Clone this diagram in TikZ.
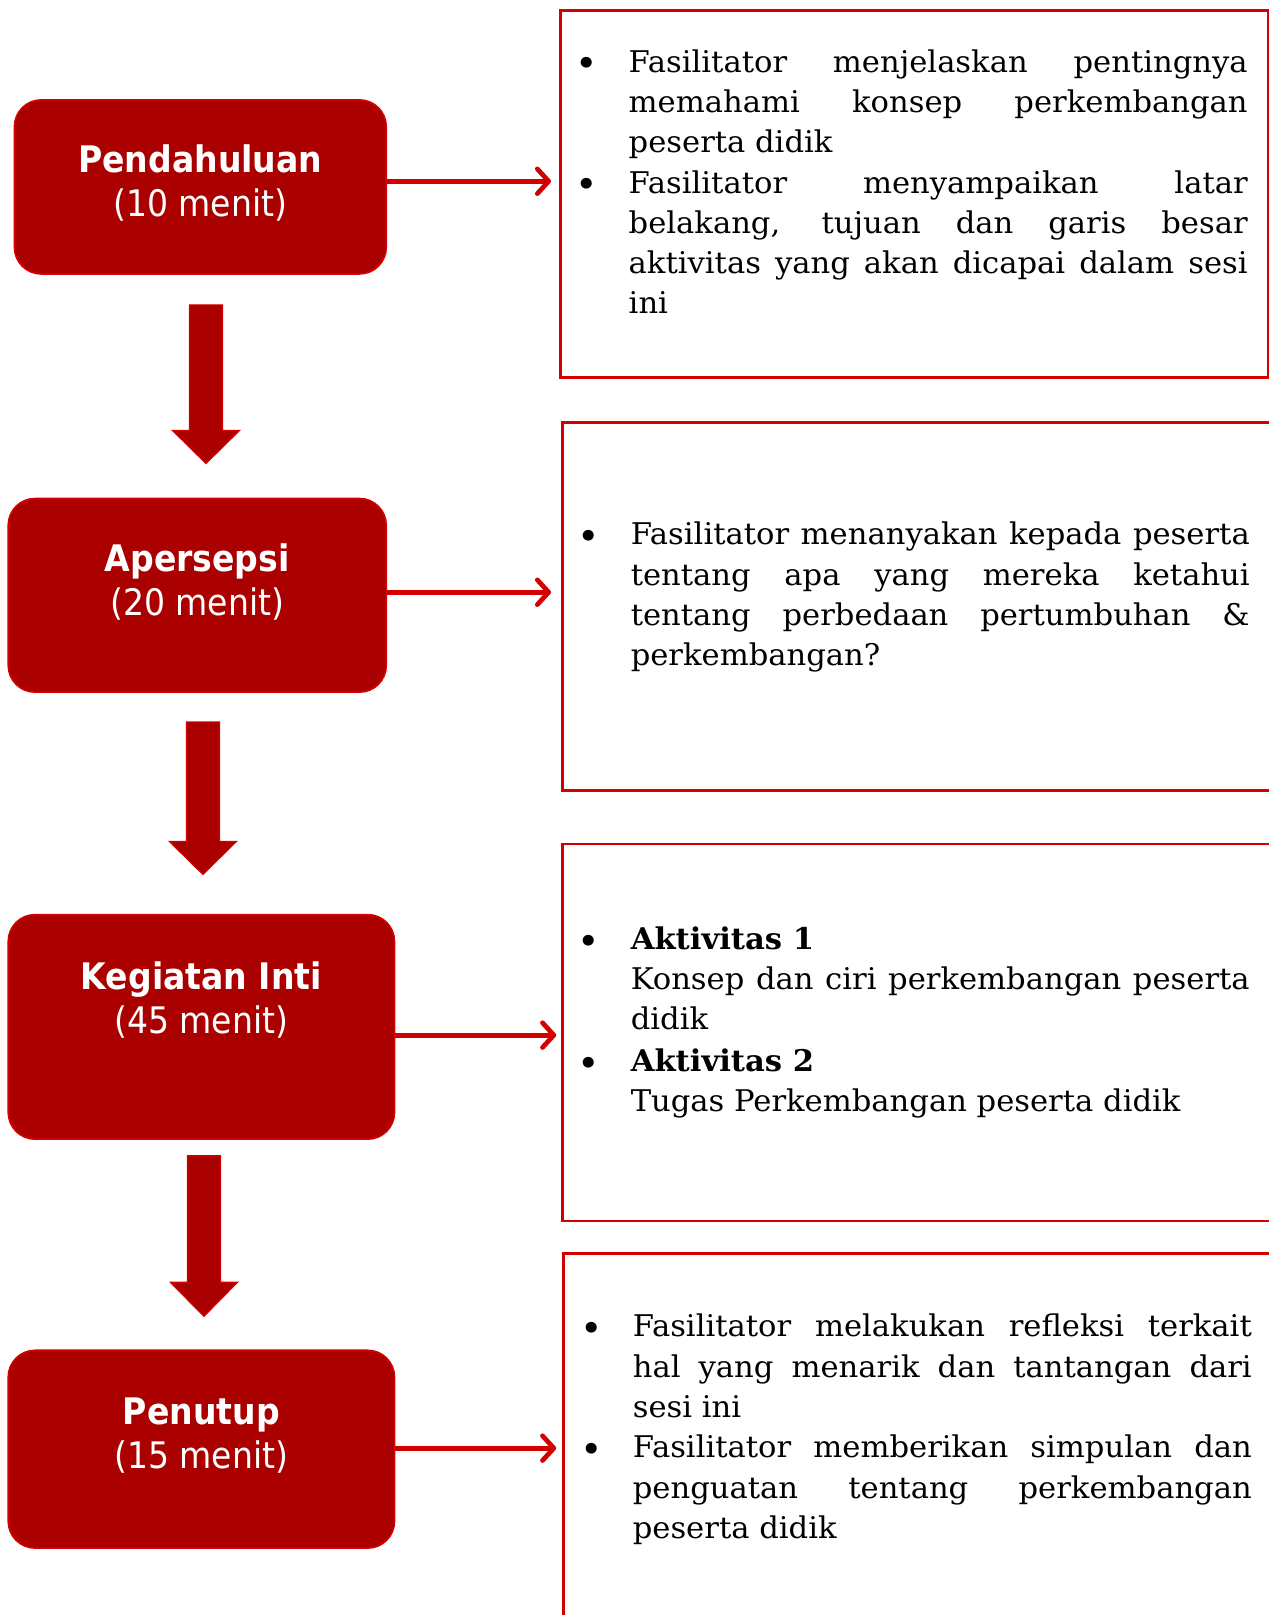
\documentclass[tikz,border=0pt]{standalone}
\usepackage{fontspec}
\setmainfont{DejaVu Serif}[FakeStretch=1.025]
\newfontfamily\boxfont[FakeStretch=0.905]{DejaVu Sans}
\usetikzlibrary{arrows.meta,calc}
\definecolor{boxfill}{RGB}{170,0,0}
\definecolor{boxedge}{RGB}{214,0,0}
\definecolor{linered}{RGB}{212,0,0}
\hyphenpenalty=10000
\exhyphenpenalty=10000
\tolerance=10000
\tikzset{
  lbox/.style={draw=boxedge, line width=0.8pt, fill=boxfill, rounded corners=13pt, inner sep=0pt},
  ltext/.style={text=white, align=center, inner sep=0pt,
    font=\boxfont\fontsize{17.75pt}{21.35pt}\selectfont},
  rbox/.style={draw=linered, line width=1.25pt, inner sep=0pt, anchor=north west},
  rtext/.style={anchor=base west, inner sep=0pt, text width=300.5pt, align=justify,
    font=\fontsize{14.5pt}{19.5pt}\selectfont},
  bul/.style={anchor=base, inner sep=0pt, yshift=-2.2pt, font=\fontsize{18pt}{19.5pt}\selectfont},
  harrow/.style={draw=linered, line width=2.3pt, -{Straight Barb[length=5.5pt,width=12pt,round]}},
  barrow/.style={fill=boxfill, draw=boxedge, line width=0.6pt},
}
\begin{document}
\begin{tikzpicture}[x=0.5pt,y=-0.5pt]
\useasboundingbox (0,0) rectangle (1232,1568);

% left boxes
\node[lbox, minimum width=180.5pt, minimum height=84.5pt] (pend) at (194.5,181.5) {};
\node[lbox, minimum width=183.5pt, minimum height=94pt] (aper) at (191.5,578) {};
\node[lbox, minimum width=187.5pt, minimum height=109pt] (inti) at (195.5,997) {};
\node[lbox, minimum width=187.5pt, minimum height=96pt] (tutup) at (195.5,1407) {};

\node[ltext] (pendt) at (194.5,178) {\bfseries Pendahuluan\\(10 menit)};
\node[ltext] (apert) at (191.5,565) {\bfseries Apersepsi\\(20 menit)};
\node[ltext] (intit) at (195.5,971) {\bfseries Kegiatan Inti\\(45 menit)};
\node[ltext] (tutupt) at (195.5,1393.5) {\bfseries Penutup\\(15 menit)};

% block arrows
\path[barrow] (184,296) -- (216,296) -- (216,418) -- (232.5,418) -- (200,450) -- (167.5,418) -- (184,418) -- cycle;
\path[barrow] (181,701) -- (213,701) -- (213,817) -- (229.5,817) -- (197,849) -- (164.5,817) -- (181,817) -- cycle;
\path[barrow] (182,1122) -- (214,1122) -- (214,1245) -- (230.5,1245) -- (198,1278) -- (165.5,1245) -- (182,1245) -- cycle;

% right boxes
\node[rbox, minimum width=343.5pt, minimum height=178pt] (ra) at (543,9) {};
\node[rbox, minimum width=347.5pt, minimum height=178.5pt] (rb) at (545,409) {};
\node[rbox, minimum width=347.5pt, minimum height=183pt] (rc) at (545,818) {};
\node[rbox, minimum width=347pt, minimum height=182pt] (rd) at (546,1216) {};

% horizontal arrows
\draw[harrow] (pend.east |- 0,176) -- ([xshift=-4pt]ra.west |- 0,176);
\draw[harrow] (aper.east |- 0,575) -- ([xshift=-5pt]rb.west |- 0,575);
\draw[harrow] (inti.east |- 0,1005) -- ([xshift=-2.5pt]rc.west |- 0,1005);
\draw[harrow] (tutup.east |- 0,1406) -- ([xshift=-3pt]rd.west |- 0,1406);

% texts box A
\node[bul] (ba1) at (570,70) {\textbullet};
\node[rtext] (ta1) at (610,70) {Fasilitator menjelaskan pentingnya\linebreak memahami konsep perkembangan\linebreak peserta didik};
\node[bul] (ba2) at (570,187.5) {\textbullet};
\node[rtext] (ta2) at (610,187.5) {Fasilitator menyampaikan latar\linebreak belakang, tujuan dan garis besar\linebreak aktivitas yang akan dicapai dalam sesi\linebreak ini};

% box B
\node[bul] (bb1) at (572,529) {\textbullet};
\node[rtext] (tb1) at (612,529) {Fasilitator menanyakan kepada peserta\linebreak tentang apa yang mereka ketahui\linebreak tentang perbedaan pertumbuhan \&\linebreak perkembangan?};

% box C
\node[bul] (bc1) at (572,922) {\textbullet};
\node[rtext] (tc1) at (612,922) {\textbf{Aktivitas 1}\par Konsep dan ciri perkembangan peserta\linebreak didik};
\node[bul] (bc2) at (572,1040.5) {\textbullet};
\node[rtext] (tc2) at (612,1040.5) {\textbf{Aktivitas 2}\par Tugas Perkembangan peserta didik};

% box D
\node[bul] (bd1) at (574,1298) {\textbullet};
\node[rtext] (td1) at (614,1298) {Fasilitator melakukan refleksi terkait\linebreak hal yang menarik dan tantangan dari\linebreak sesi ini};
\node[bul] (bd2) at (574,1415.5) {\textbullet};
\node[rtext] (td2) at (614,1415.5) {Fasilitator memberikan simpulan dan\linebreak penguatan tentang perkembangan\linebreak peserta didik};
\end{tikzpicture}
\end{document}
